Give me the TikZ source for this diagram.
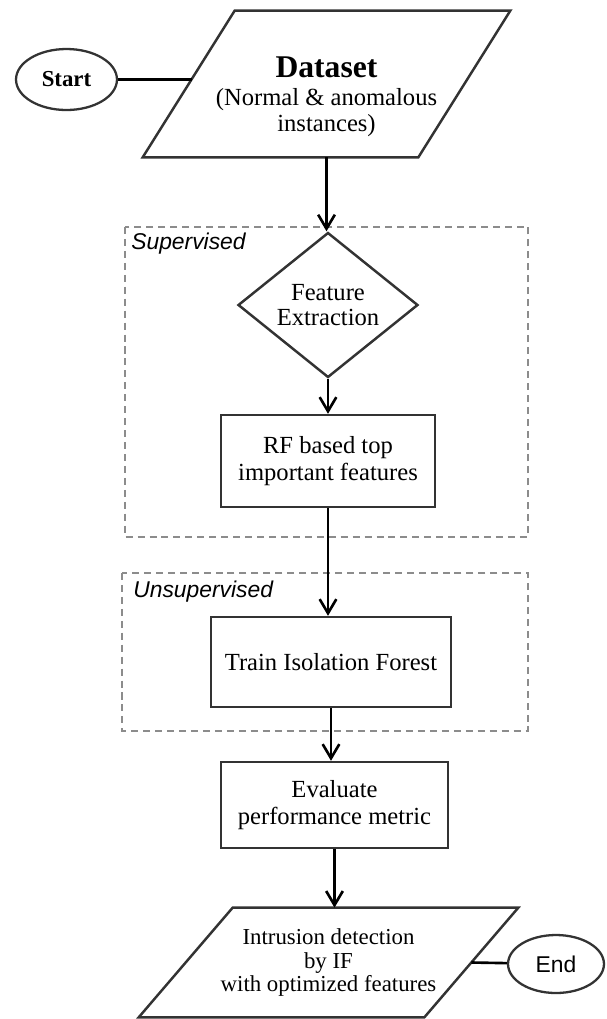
\documentclass[tikz,border=0pt]{standalone}
\usepackage{fontspec}
\setmainfont{Liberation Serif}
\setsansfont{Liberation Sans}
\usetikzlibrary{arrows.meta, shapes.geometric}

\begin{document}
\begin{tikzpicture}[x=0.02cm, y=-0.02cm, >={Straight Barb[length=8pt,width=9.5pt]},
        terminal/.style={ellipse, draw=black!80, line width=1.3pt, inner sep=0pt},
        io_block/.style={rectangle, align=center, inner sep=0pt, font=\fontsize{14}{15}\selectfont},
        io_outline/.style={draw=black!80, line width=1.4pt, line join=miter},
        decision/.style={diamond, draw=black!80, line width=1.4pt, aspect=1.24, inner sep=0pt, align=center, minimum width=3.6cm, minimum height=2.9cm, font=\fontsize{14}{14.5}\selectfont},
        block/.style={rectangle, draw=black!80, line width=1.4pt, align=center, font=\fontsize{14}{15.3}\selectfont},
        group/.style={draw=black!45, line width=1.1pt, dash pattern=on 4pt off 2.8pt},
        group_label/.style={anchor=west, inner sep=0pt, font=\sffamily\itshape\fontsize{13}{15}\selectfont},
        line/.style={draw, ->, line width=1.5pt},
        link/.style={draw, line width=1.5pt}]

        \useasboundingbox (0,0) rectangle (606,1019);

        % Groups
        \draw [group] (125,227) rectangle (528,537);
        \node [group_label] (sup_label) at (131,244) {Supervised};
        \draw [group] (122,573) rectangle (528,731);
        \node [group_label] (unsup_label) at (133,592) {Unsupervised};

        % Nodes
        \node [io_block, minimum width=5.5cm, minimum height=2.92cm] (dataset) at (326.5,84)
            {\rule{0pt}{26.3pt}{\fontsize{18}{18}\selectfont\bfseries Dataset}\\[0.7pt](Normal \& anomalous\\instances)};
        \draw [io_outline] ([xshift=0.92cm]dataset.north west) -- ([xshift=0.92cm]dataset.north east)
            -- ([xshift=-0.92cm]dataset.south east) -- ([xshift=-0.92cm]dataset.south west) -- cycle;
        \node [terminal, minimum width=2.02cm, minimum height=1.22cm, font=\fontsize{13}{15}\selectfont\bfseries] (start) at (66.5,79.5) {Start};
        \coordinate (dataset_in) at (191.8,79.5);

        \node [decision] (feat) at (328,305) {Feature\\Extraction};
        \node [block, minimum width=4.28cm, minimum height=1.84cm] (rf) at (328,461) {RF based top\\important features};
        \node [block, minimum width=4.8cm, minimum height=1.8cm] (train) at (331,662) {Train Isolation Forest};
        \node [block, minimum width=4.54cm, minimum height=1.72cm] (eval) at (334.5,805) {Evaluate\\performance metric};

        \node [io_block, minimum width=5.7cm, minimum height=2.18cm, font=\fontsize{13}{13.5}\selectfont] (intrusion) at (328.5,962.5)
            {Intrusion detection\\by IF\\with optimized features};
        \draw [io_outline] ([xshift=0.94cm]intrusion.north west) -- ([xshift=0.94cm]intrusion.north east)
            -- ([xshift=-0.94cm]intrusion.south east) -- ([xshift=-0.94cm]intrusion.south west) -- cycle;
        \node [terminal, minimum width=1.92cm, minimum height=1.16cm, font=\sffamily\fontsize{13}{15}\selectfont] (endnode) at (556,964) {End};

        % Paths
        \path [link] (start) -- (dataset_in);
        \path [line] (dataset.south) -- (dataset.south |- feat.north);
        \path [line] (feat.south) -- (feat.south |- rf.north);
        \path [line] (rf.south) -- (rf.south |- train.north);
        \path [line] (train.south) -- (train.south |- eval.north);
        \path [line] (eval.south) -- (eval.south |- intrusion.north);
        \path [link] (intrusion.east) -- (endnode);
    \end{tikzpicture}
\end{document}
